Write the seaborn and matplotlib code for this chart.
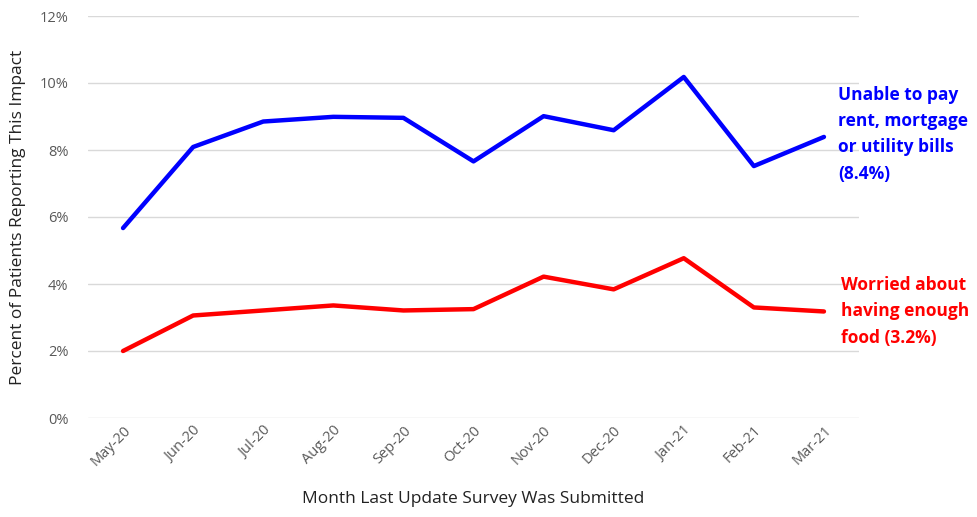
import matplotlib
matplotlib.use("Agg")
import matplotlib.pyplot as plt
import seaborn as sns
import pandas as pd
from matplotlib.ticker import PercentFormatter

months = ["May-20", "Jun-20", "Jul-20", "Aug-20", "Sep-20", "Oct-20",
          "Nov-20", "Dec-20", "Jan-21", "Feb-21", "Mar-21"]
unable_to_pay = [5.67, 8.09, 8.85, 8.99, 8.96, 7.66, 9.01, 8.59, 10.18, 7.52, 8.39]
worried_food = [2.0, 3.06, 3.21, 3.36, 3.21, 3.25, 4.22, 3.84, 4.77, 3.30, 3.18]
y_ticks = [0, 2, 4, 6, 8, 10, 12]

sns.set_theme(style="white")
plt.rcParams['font.family'] = ['Open Sans', 'DejaVu Sans']

df = pd.DataFrame({
    "month": months * 2,
    "value": unable_to_pay + worried_food,
    "series": ["Unable"] * len(months) + ["Food"] * len(months),
})

fig = plt.figure(figsize=(9.77, 5.17), dpi=100)
ax = fig.add_axes([88 / 977, 1 - 418 / 517, (859 - 88) / 977, (418 - 16) / 517])

sns.lineplot(data=df, x="month", y="value", hue="series",
             palette={"Unable": "#0000ff", "Food": "#ff0000"},
             linewidth=3.2, legend=False, ax=ax, sort=False)

ax.set_xlim(-0.5, len(months) - 0.5)
ax.set_ylim(0, 12)
ax.set_yticks(y_ticks)
ax.yaxis.set_major_formatter(PercentFormatter(decimals=0))
ax.grid(axis="y", color="#d9d9d9", linewidth=1)
ax.set_axisbelow(True)
for s in ax.spines.values():
    s.set_visible(False)

ax.tick_params(axis="both", length=0, labelcolor="#595959", labelsize=10.5)
ax.tick_params(axis="y", pad=14)
for lab in ax.get_xticklabels():
    lab.set_rotation(45)
    lab.set_ha("right")
    lab.set_rotation_mode("anchor")

ax.set_xlabel("Month Last Update Survey Was Submitted", fontsize=12.5, color="#222222", labelpad=16)
ax.set_ylabel("Percent of Patients Reporting This Impact", fontsize=12.5, color="#222222", labelpad=10)

ax.annotate("Unable to pay\nrent, mortgage\nor utility bills\n(8.4%)",
            xy=(len(months) - 1, unable_to_pay[-1]), xytext=(10, 2),
            textcoords="offset points", ha="left", va="center",
            fontsize=12.5, fontweight="bold", color="#0000ff", linespacing=1.6,
            annotation_clip=False)
ax.annotate("Worried about\nhaving enough\nfood (3.2%)",
            xy=(len(months) - 1, worried_food[-1]), xytext=(12, 0),
            textcoords="offset points", ha="left", va="center",
            fontsize=12.5, fontweight="bold", color="#ff0000", linespacing=1.6,
            annotation_clip=False)

fig.savefig("out.png", dpi=100)
